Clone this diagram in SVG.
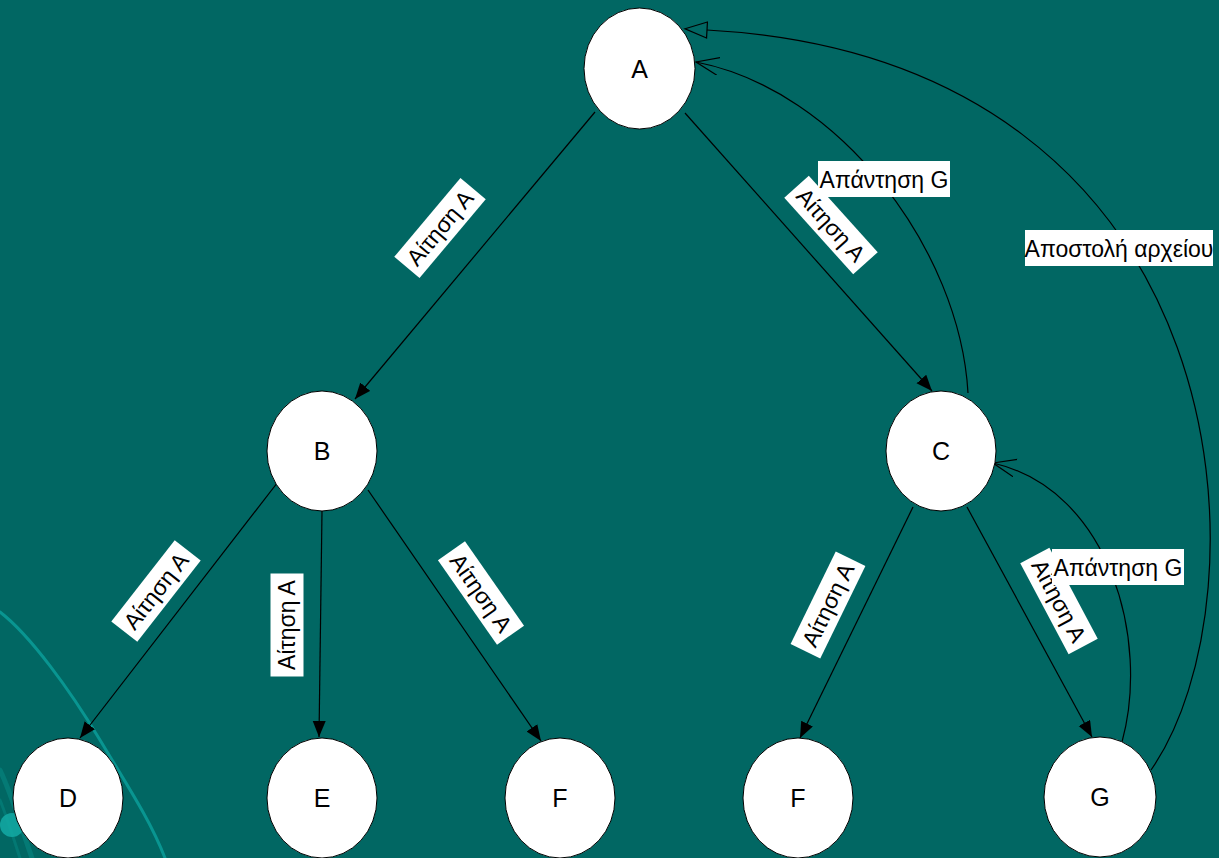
<svg xmlns="http://www.w3.org/2000/svg" width="1219" height="858" viewBox="0 0 1219 858">
  <defs>
    <style>
      .node ellipse { fill: #ffffff; stroke: #000000; stroke-width: 1; }
      .node text { font-family: "Liberation Sans", Arial, sans-serif; font-size: 25px; fill: #000000; text-anchor: middle; }
      .edge { fill: none; stroke: #000000; stroke-width: 1.2; }
      .lbl rect { fill: #ffffff; }
      .lbl text { font-family: "Liberation Sans", Arial, sans-serif; font-size: 23px; fill: #000000; text-anchor: middle; }
      .deco { fill: none; stroke: #0b9e99; stroke-linecap: round; }
    </style>
    <marker id="solid" markerUnits="userSpaceOnUse" markerWidth="18" markerHeight="14" refX="16" refY="6.5" orient="auto">
      <path d="M0,0 L16,6.5 L0,13 z" fill="#000000"/>
    </marker>
    <marker id="open" markerUnits="userSpaceOnUse" markerWidth="26" markerHeight="20" refX="23" refY="9" orient="auto">
      <path d="M0,0 L23,9 L0,18" fill="none" stroke="#000000" stroke-width="1.2"/>
    </marker>
    <marker id="hollow" markerUnits="userSpaceOnUse" markerWidth="26" markerHeight="20" refX="1" refY="9" orient="auto">
      <path d="M1,1 L23,9 L1,17 z" fill="none" stroke="#000000" stroke-width="1.2"/>
    </marker>
  </defs>

  <!-- background -->
  <rect x="0" y="0" width="1219" height="858" fill="#016763"/>

  <!-- decorative swooshes, lower left -->
  <g id="decoration">
    <path class="deco" d="M0,612 C30,635 70,690 100,740 S150,820 165,858" stroke-width="3" opacity="0.85"/>
    <path class="deco" d="M0,770 C12,795 22,830 32,858" stroke-width="5" opacity="0.35"/>
    <path class="deco" d="M0,800 C8,820 14,840 20,858" stroke-width="3" opacity="0.3"/>
    <circle cx="12" cy="825" r="12" fill="#13aaa4" opacity="0.85"/>
  </g>

  <!-- connectors -->
  <g id="connectors">
    <line class="edge" x1="595" y1="112" x2="355" y2="399" marker-end="url(#solid)"/>
    <line class="edge" x1="685" y1="113" x2="932" y2="391" marker-end="url(#solid)"/>
    <line class="edge" x1="281" y1="478" x2="80" y2="738" marker-end="url(#solid)"/>
    <line class="edge" x1="322" y1="511" x2="319" y2="737" marker-end="url(#solid)"/>
    <line class="edge" x1="368" y1="490" x2="541" y2="741" marker-end="url(#solid)"/>
    <line class="edge" x1="913" y1="507" x2="800" y2="738" marker-end="url(#solid)"/>
    <line class="edge" x1="967" y1="507" x2="1092" y2="737" marker-end="url(#solid)"/>
    <!-- replies -->
    <path class="edge" d="M968,393 C960,250 840,90 696,62" marker-end="url(#open)"/>
    <path class="edge" d="M1122,742 C1150,640 1110,490 993,463" marker-end="url(#open)"/>
    <!-- file transfer -->
    <path class="edge" d="M1151,770 C1270,600 1250,60 707,30" marker-end="url(#hollow)"/>
  </g>

  <!-- connector labels -->
  <g id="labels">
    <g class="lbl" transform="translate(440,228) rotate(-50)">
      <rect x="-51.5" y="-16.5" width="103" height="33"/><text x="0" y="8">Αίτηση Α</text>
    </g>
    <g class="lbl" transform="translate(831,225) rotate(48)">
      <rect x="-51.5" y="-16.5" width="103" height="33"/><text x="0" y="8">Αίτηση Α</text>
    </g>
    <g class="lbl" transform="translate(156,591) rotate(-52)">
      <rect x="-51.5" y="-16.5" width="103" height="33"/><text x="0" y="8">Αίτηση Α</text>
    </g>
    <g class="lbl" transform="translate(287,625) rotate(-90)">
      <rect x="-51.5" y="-16.5" width="103" height="33"/><text x="0" y="8">Αίτηση Α</text>
    </g>
    <g class="lbl" transform="translate(481,593) rotate(55)">
      <rect x="-51.5" y="-16.5" width="103" height="33"/><text x="0" y="8">Αίτηση Α</text>
    </g>
    <g class="lbl" transform="translate(828,605) rotate(-64)">
      <rect x="-51.5" y="-16.5" width="103" height="33"/><text x="0" y="8">Αίτηση Α</text>
    </g>
    <g class="lbl" transform="translate(1059,601) rotate(62)">
      <rect x="-51.5" y="-16.5" width="103" height="33"/><text x="0" y="8">Αίτηση Α</text>
    </g>
    <g class="lbl">
      <rect x="818" y="161" width="132" height="36"/><text x="884" y="187.5">Απάντηση G</text>
    </g>
    <g class="lbl">
      <rect x="1052" y="549" width="132" height="36"/><text x="1118" y="575.5">Απάντηση G</text>
    </g>
    <g class="lbl">
      <rect x="1025" y="230" width="188" height="36"/><text x="1119" y="256.5">Αποστολή αρχείου</text>
    </g>
  </g>

  <!-- nodes -->
  <g id="node-A" class="node"><ellipse cx="639.5" cy="68.5" rx="55.5" ry="60.5"/><text x="639.5" y="77.5">A</text></g>
  <g id="node-B" class="node"><ellipse cx="322" cy="451" rx="55" ry="60"/><text x="322" y="460">B</text></g>
  <g id="node-C" class="node"><ellipse cx="941" cy="451" rx="55" ry="60"/><text x="941" y="460">C</text></g>
  <g id="node-D" class="node"><ellipse cx="68" cy="798" rx="55" ry="60"/><text x="68" y="807">D</text></g>
  <g id="node-E" class="node"><ellipse cx="322" cy="798" rx="55" ry="60"/><text x="322" y="807">E</text></g>
  <g id="node-F1" class="node"><ellipse cx="560" cy="798" rx="55" ry="60"/><text x="560" y="807">F</text></g>
  <g id="node-F2" class="node"><ellipse cx="798" cy="798" rx="55" ry="60"/><text x="798" y="807">F</text></g>
  <g id="node-G" class="node"><ellipse cx="1100" cy="797" rx="56" ry="60"/><text x="1100" y="806">G</text></g>
</svg>
